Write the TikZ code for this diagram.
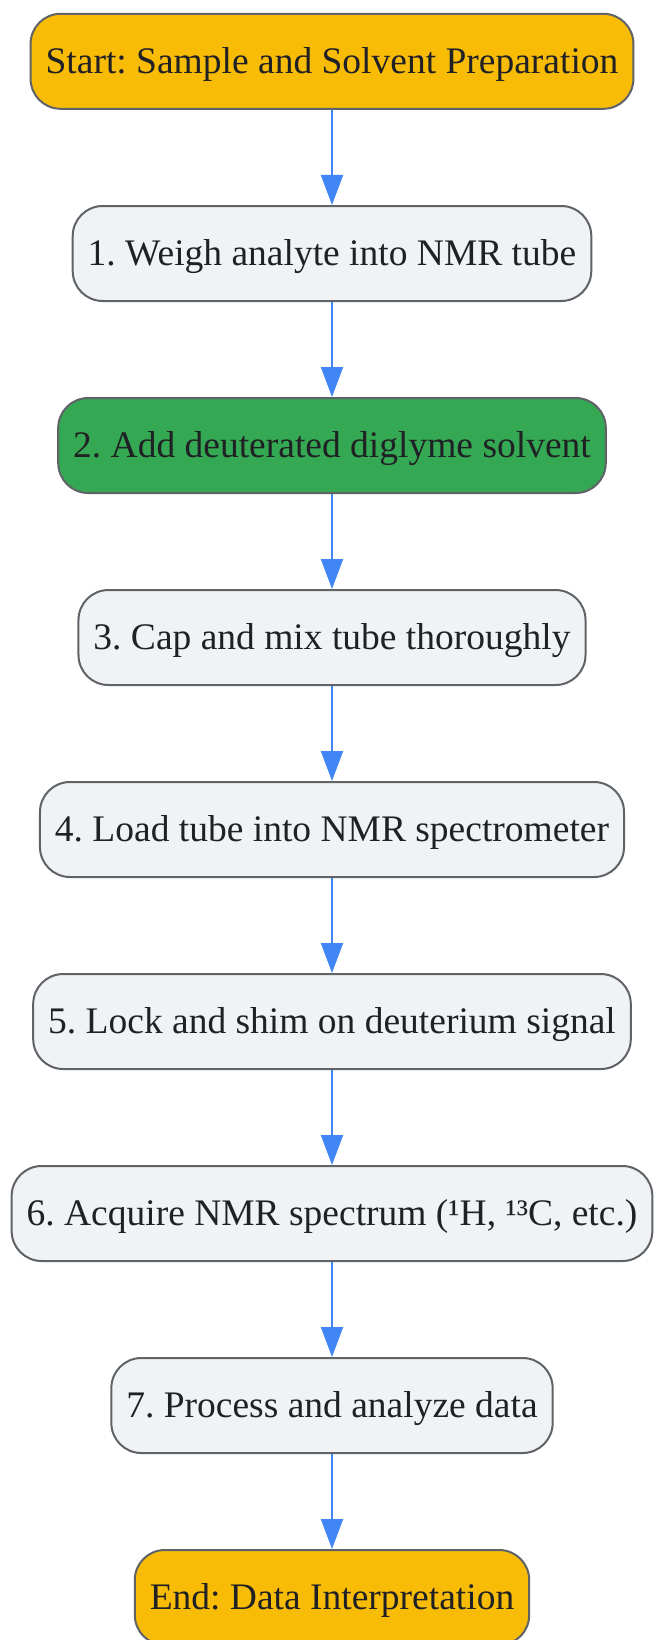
\documentclass[tikz,border=0pt]{standalone}
\usepackage{fontspec}
\setmainfont{Liberation Serif}
\usetikzlibrary{arrows.meta}
\definecolor{termfill}{HTML}{F9BC06}
\definecolor{greenfill}{HTML}{34A853}
\definecolor{boxfill}{HTML}{F1F2F4}
\definecolor{boxline}{HTML}{5F6368}
\definecolor{arrowcol}{HTML}{4285F4}
\definecolor{textcol}{HTML}{202124}
\begin{document}
\frenchspacing
\begin{tikzpicture}[x=1pt,y=-1pt,
   box/.style={draw=boxline,line width=2pt,rounded corners=30pt,fill=boxfill,
     minimum height=95pt,inner xsep=15pt,text height=32pt,text depth=7.5pt,
     text=textcol,font=\fontsize{37.5}{44}\selectfont},
   term/.style={box,fill=termfill},
   go/.style={draw=arrowcol,line width=2pt,-{Triangle[length=30pt,width=22pt]}}]
   \useasboundingbox (0,0) rectangle (654,1640);
   \node[term] (s) at (332,61.3) {Start: Sample and Solvent Preparation};
   \node[box] (a) at (332,253.5) {1. Weigh analyte into NMR tube};
   \node[box,fill=greenfill] (b) at (332,445.5) {2. Add deuterated diglyme solvent};
   \node[box] (c) at (332,637.5) {3. Cap and mix tube thoroughly};
   \node[box] (d) at (332,829.5) {4. Load tube into NMR spectrometer};
   \node[box] (e) at (332,1021.5) {5. Lock and shim on deuterium signal};
   \node[box] (f) at (332,1213.5) {6. Acquire NMR spectrum (¹H, ¹³C, etc.)};
   \node[box] (g) at (332,1405.5) {7. Process and analyze data};
   \node[term] (t) at (332,1597.5) {End: Data Interpretation};

   \draw[go] (s) -- (a);
   \draw[go] (a) -- (b);
   \draw[go] (b) -- (c);
   \draw[go] (c) -- (d);
   \draw[go] (d) -- (e);
   \draw[go] (e) -- (f);
   \draw[go] (f) -- (g);
   \draw[go] (g) -- (t);
\end{tikzpicture}
\end{document}
